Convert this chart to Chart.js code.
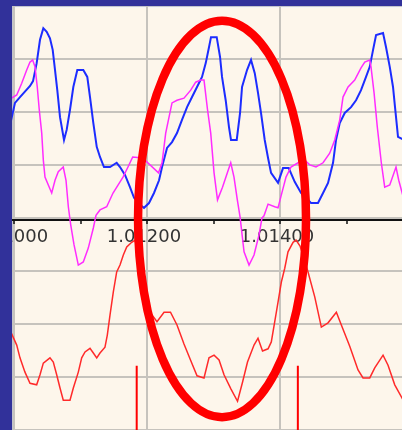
<!DOCTYPE html>
<html>
<head>
<meta charset="utf-8">
<script src="https://cdn.jsdelivr.net/npm/chart.js@4/dist/chart.umd.min.js"></script>
<style>
  html, body { margin: 0; padding: 0; background: #31319a; width: 402px; height: 430px; overflow: hidden; }
  #pane { position: absolute; left: 12px; top: 6px; width: 390px; height: 424px; background: #fdf6eb;
          box-shadow: inset 1px 1px 0 #c4c4cc, inset 2px 2px 0 #f4f4f6; }
  #chart { display: block; }
</style>
</head>
<body>
<div id="pane"><canvas id="chart" width="390" height="424"></canvas></div>
<script>
// Price axis range and tick spacing
const priceMin = 1.00997;
const priceMax = 1.015834;
const priceStep = 0.001;          // minor tick every 0.001, labelled every 0.002
const levelMin = -39.62;
const levelMax = 40.38;
const levelStep = 10;

// Fast oscillator (blue)
const blueX = [1.009940,1.010015,1.010090,1.010241,1.010286,1.010341,1.010391,1.010441,1.010492,1.010541,
  1.010582,1.010617,1.010651,1.010692,1.010752,1.010792,1.010842,1.010892,1.010952,1.011042,
  1.011102,1.011143,1.011193,1.011244,1.011293,1.011353,1.011444,1.011544,1.011594,1.011669,
  1.011744,1.011805,1.011905,1.011955,1.012030,1.012105,1.012181,1.012226,1.012301,1.012376,
  1.012451,1.012526,1.012602,1.012677,1.012752,1.012827,1.012883,1.012932,1.012962,1.013048,
  1.013098,1.013128,1.013183,1.013233,1.013263,1.013349,1.013399,1.013429,1.013504,1.013564,
  1.013620,1.013669,1.013714,1.013770,1.013820,1.013865,1.013970,1.014045,1.014131,1.014221,
  1.014316,1.014466,1.014571,1.014647,1.014722,1.014797,1.014842,1.014898,1.014973,1.015068,
  1.015143,1.015218,1.015293,1.015349,1.015399,1.015444,1.015549,1.015594,1.015650,1.015699,
  1.015729,1.015774,1.015865];
const blueY = [17.9,22.1,23.2,25.3,26.2,29.6,34.0,36.2,35.5,34.3,
  32.1,28.3,24.5,19.4,15.1,17.0,20.8,25.1,28.3,28.3,
  27.0,23.2,18.3,13.8,11.9,10.0,10.0,10.8,10.0,8.5,
  6.2,4.2,2.8,2.3,3.2,5.1,7.5,10.0,13.6,14.7,
  16.4,18.9,21.3,23.2,25.1,27.0,29.6,32.6,34.5,34.5,
  30.8,27.0,22.6,17.5,15.1,15.1,20.2,25.1,28.3,30.2,
  27.7,24.0,20.2,15.1,11.7,8.9,7.0,9.8,9.8,7.2,
  5.1,3.2,3.2,5.1,7.0,10.8,15.1,18.3,20.2,21.3,
  22.6,24.5,27.0,28.9,32.1,34.9,35.3,32.6,28.9,25.1,
  21.3,15.7,15.1];

// Slow oscillator (magenta)
const magentaX = [1.009940,1.010041,1.010116,1.010191,1.010241,1.010281,1.010316,1.010350,1.010380,1.010417,
  1.010441,1.010466,1.010516,1.010567,1.010617,1.010666,1.010741,1.010782,1.010817,1.010853,
  1.010903,1.010967,1.011042,1.011117,1.011193,1.011233,1.011293,1.011394,1.011489,1.011564,
  1.011639,1.011714,1.011785,1.011935,1.012173,1.012226,1.012281,1.012331,1.012376,1.012451,
  1.012556,1.012657,1.012732,1.012808,1.012857,1.012910,1.012958,1.013008,1.013060,1.013135,
  1.013208,1.013259,1.013308,1.013358,1.013399,1.013459,1.013534,1.013609,1.013684,1.013729,
  1.013759,1.013820,1.013920,1.013970,1.014015,1.014090,1.014165,1.014271,1.014371,1.014447,
  1.014541,1.014647,1.014747,1.014823,1.014898,1.014947,1.015023,1.015123,1.015218,1.015274,
  1.015349,1.015368,1.015414,1.015463,1.015523,1.015574,1.015650,1.015744,1.015785,1.015865];
const magentaY = [22.8,23.6,25.8,28.3,29.8,30.2,28.9,25.1,20.8,16.4,
  11.3,8.1,6.6,5.1,7.5,9.1,10.0,7.5,2.5,-0.9,
  -4.7,-8.5,-7.9,-5.3,-1.5,0.9,1.9,2.5,5.1,6.6,
  8.1,10.0,11.9,11.7,8.9,10.8,16.4,19.4,22.1,22.6,
  23.0,24.5,26.0,26.4,26.4,20.8,16.4,8.9,3.8,6.2,
  8.9,10.8,8.1,3.8,0.6,-6.0,-8.5,-6.6,-2.8,0.4,
  0.8,3.0,2.5,2.3,4.5,8.1,10.0,10.8,11.3,10.4,
  10.0,10.8,12.6,15.1,18.9,23.2,25.1,26.4,28.7,29.8,
  30.2,28.9,24.0,17.5,10.8,6.2,6.6,10.0,7.5,3.8];

// Lower indicator (red)
const redX = [1.009940,1.010041,1.010090,1.010165,1.010241,1.010341,1.010391,1.010441,1.010541,1.010591,
  1.010642,1.010692,1.010741,1.010842,1.010892,1.010967,1.011018,1.011068,1.011143,1.011193,
  1.011244,1.011293,1.011368,1.011403,1.011444,1.011493,1.011544,1.011594,1.011644,1.011695,
  1.011770,1.011820,1.011895,1.012000,1.012045,1.012150,1.012256,1.012353,1.012451,1.012556,
  1.012654,1.012752,1.012857,1.012932,1.013008,1.013083,1.013158,1.013263,1.013361,1.013436,
  1.013511,1.013609,1.013669,1.013737,1.013820,1.013869,1.013920,1.013970,1.014020,1.014071,
  1.014120,1.014196,1.014241,1.014301,1.014361,1.014421,1.014522,1.014621,1.014722,1.014847,
  1.014922,1.015048,1.015173,1.015248,1.015349,1.015424,1.015549,1.015624,1.015725,1.015865];
const redY = [-20.8,-23.6,-26.0,-28.7,-30.8,-31.1,-29.2,-27.0,-26.0,-26.8,
  -29.2,-31.7,-34.0,-34.0,-31.7,-28.7,-26.0,-24.9,-24.2,-25.1,
  -26.0,-25.1,-24.0,-21.7,-17.9,-13.6,-9.8,-8.5,-6.6,-5.1,
  -4.2,-3.8,-7.9,-15.1,-17.4,-19.2,-17.4,-17.4,-19.8,-23.4,
  -26.4,-29.4,-29.8,-26.0,-25.5,-26.4,-29.2,-31.9,-34.2,-30.6,
  -26.8,-23.6,-22.3,-24.7,-24.3,-23.0,-19.2,-15.5,-11.7,-9.1,
  -6.0,-4.2,-3.8,-4.9,-7.2,-9.8,-14.5,-20.2,-19.4,-17.4,
  -19.8,-23.8,-28.3,-29.8,-29.8,-27.9,-25.5,-27.4,-31.1,-34.3];

// Signal markers (vertical red strokes at the bottom)
const markerX = [1.011845, 1.014268];
const markerTop = -27.5;
const markerBottom = -45;

// Highlight ring, in price / level units
const ringX = [1.011865, 1.014391];
const ringY = [-37.2, 37.6];

const pts = (xs, ys) => xs.map((x, i) => ({ x, y: ys[i] }));

const lineSet = (data, color, width) => ({
  data, borderColor: color, borderWidth: width, pointRadius: 0,
  tension: 0, fill: false, borderJoinStyle: 'miter'
});

const markerSets = markerX.map(x => lineSet(pts([x, x], [markerTop, markerBottom]), '#ff0000', 2));

const ringPlugin = {
  id: 'ring',
  afterDraw(chart) {
    const { ctx, scales: { x, y } } = chart;
    const x0 = x.getPixelForValue(ringX[0]), x1 = x.getPixelForValue(ringX[1]);
    const y0 = y.getPixelForValue(ringY[1]), y1 = y.getPixelForValue(ringY[0]);
    ctx.save();
    ctx.beginPath();
    ctx.ellipse((x0 + x1) / 2, (y0 + y1) / 2, (x1 - x0) / 2, (y1 - y0) / 2, 0, 0, Math.PI * 2);
    ctx.strokeStyle = '#ff0000';
    ctx.lineWidth = 8.5;
    ctx.stroke();
    ctx.restore();
  }
};

const noPadding = scale => {
  scale.paddingLeft = 0; scale.paddingRight = 0;
  scale.paddingTop = 0; scale.paddingBottom = 0;
};

new Chart(document.getElementById('chart'), {
  type: 'line',
  data: {
    datasets: [
      lineSet(pts(redX, redY), '#ff2a2a', 1.5),
      lineSet(pts(magentaX, magentaY), '#ff2cff', 1.5),
      lineSet(pts(blueX, blueY), '#1c2cff', 2),
      ...markerSets
    ]
  },
  options: {
    responsive: false,
    animation: false,
    events: [],
    layout: { padding: 0 },
    plugins: { legend: { display: false }, tooltip: { enabled: false } },
    scales: {
      x: {
        type: 'linear',
        min: priceMin,
        max: priceMax,
        position: { y: 0 },
        border: { display: true, color: '#111111', width: 2 },
        grid: {
          color: c => (Math.round(c.tick.value / priceStep) % 2 === 0 ? '#c6c3bd' : 'rgba(0,0,0,0)'),
          lineWidth: 2,
          tickColor: '#111111',
          tickLength: 3,
          tickWidth: 1.5
        },
        ticks: {
          stepSize: priceStep,
          includeBounds: false,
          autoSkip: false,
          maxRotation: 0,
          minRotation: 0,
          padding: 4,
          labelOffset: -3,
          color: '#333333',
          font: { family: 'DejaVu Sans', size: 18 },
          callback: v => (Math.round(v / priceStep) % 2 === 0 ? v.toFixed(5) : '')
        },
        afterFit: noPadding
      },
      y: {
        type: 'linear',
        min: levelMin,
        max: levelMax,
        border: { display: false },
        grid: {
          color: c => (c.tick.value > levelMax - 1 ? 'rgba(0,0,0,0)' : '#c6c3bd'),
          lineWidth: 2,
          drawTicks: false
        },
        ticks: { display: false, stepSize: levelStep },
        afterFit: s => { s.width = 0; noPadding(s); }
      }
    }
  },
  plugins: [ringPlugin]
});
</script>
</body>
</html>
